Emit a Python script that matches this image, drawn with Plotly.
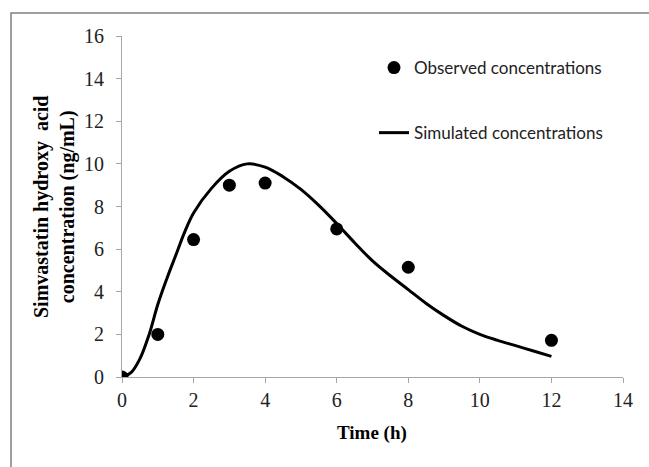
import plotly.graph_objects as go

# Observed data
obs_time = [0, 1, 2, 3, 4, 6, 8, 12]
obs_conc = [0.0, 2.0, 6.45, 9.0, 9.1, 6.95, 5.15, 1.72]

# Simulated curve
sim_time = [0, 0.25, 0.5, 0.75, 1, 1.25, 1.5, 1.75, 2, 2.5, 3, 3.5, 4, 4.5, 5, 5.5, 6,
            6.5, 7, 7.5, 8, 8.5, 9, 9.5, 10, 10.5, 11, 11.5, 12]
sim_conc = [0.0, 0.2, 0.85, 1.95, 3.4, 4.6, 5.7, 6.8, 7.7, 8.85, 9.65, 10.0, 9.85, 9.4, 8.8,
            8.05, 7.2, 6.3, 5.45, 4.75, 4.1, 3.45, 2.88, 2.38, 2.0, 1.72, 1.47, 1.22, 0.97]

x_ticks = [0, 2, 4, 6, 8, 10, 12, 14]
y_ticks = [0, 2, 4, 6, 8, 10, 12, 14, 16]

legend_font = "Lato, sans-serif"
serif = "Liberation Serif, Times New Roman, serif"

fig = go.Figure()
fig.add_trace(go.Scatter(
    x=sim_time, y=sim_conc, mode="lines", name="Simulated concentrations",
    line=dict(color="black", width=3, shape="spline", smoothing=1.0),
    legendgroup="sim", legendrank=2,
))
fig.add_trace(go.Scatter(
    x=obs_time, y=obs_conc, mode="markers", name="Observed concentrations",
    marker=dict(color="black", size=13),
    legendgroup="obs", legendrank=1,
))

W, H = 649, 467
ml, mr, mt, mb = 122, 26, 36, 90
pw, ph = W - ml - mr, H - mt - mb

def px(xp):
    return (xp - ml) / pw

def py(yp):
    return (H - mb - yp) / ph

fig.update_layout(
    width=W, height=H,
    margin=dict(l=ml, r=mr, t=mt, b=mb),
    paper_bgcolor="white", plot_bgcolor="white",
    showlegend=True,
    legend=dict(x=px(374), y=py(50), xanchor="left", yanchor="top",
                font=dict(family=legend_font, size=17, color="#222"),
                tracegroupgap=40, bgcolor="rgba(0,0,0,0)"),
    xaxis=dict(range=[0, 14], tickvals=x_ticks, showgrid=False, zeroline=False,
               showline=True, linecolor="#a6a6a6", linewidth=1,
               ticks="outside", ticklen=5, tickcolor="#a6a6a6",
               tickfont=dict(family=serif, size=20, color="#222")),
    yaxis=dict(range=[0, 16], tickvals=y_ticks, showgrid=False, zeroline=False,
               showline=True, linecolor="#a6a6a6", linewidth=1,
               ticks="outside", ticklen=5, tickcolor="#a6a6a6", ticklabelstandoff=8,
               tickfont=dict(family=serif, size=20, color="#222")),
    annotations=[
        dict(text="<b>Time (h)</b>", x=px(372), y=py(433), xref="paper", yref="paper",
             showarrow=False, xanchor="center", yanchor="middle",
             font=dict(family=serif, size=19, color="black")),
        dict(text="<b>Simvastatin hydroxy  acid<br>concentration (ng/mL)</b>",
             x=px(54), y=py(207), xref="paper", yref="paper", textangle=-90,
             showarrow=False, xanchor="center", yanchor="middle",
             font=dict(family=serif, size=20, color="black")),
    ],
    shapes=[dict(type="rect", xref="paper", yref="paper",
                 x0=px(11), x1=px(W + 20), y0=py(H + 20), y1=py(13),
                 line=dict(color="#808080", width=1.5), fillcolor="rgba(0,0,0,0)",
                 layer="below")],
)

fig.write_html("out.html", config={"displayModeBar": False},
               post_script="document.body.style.margin='0';")
